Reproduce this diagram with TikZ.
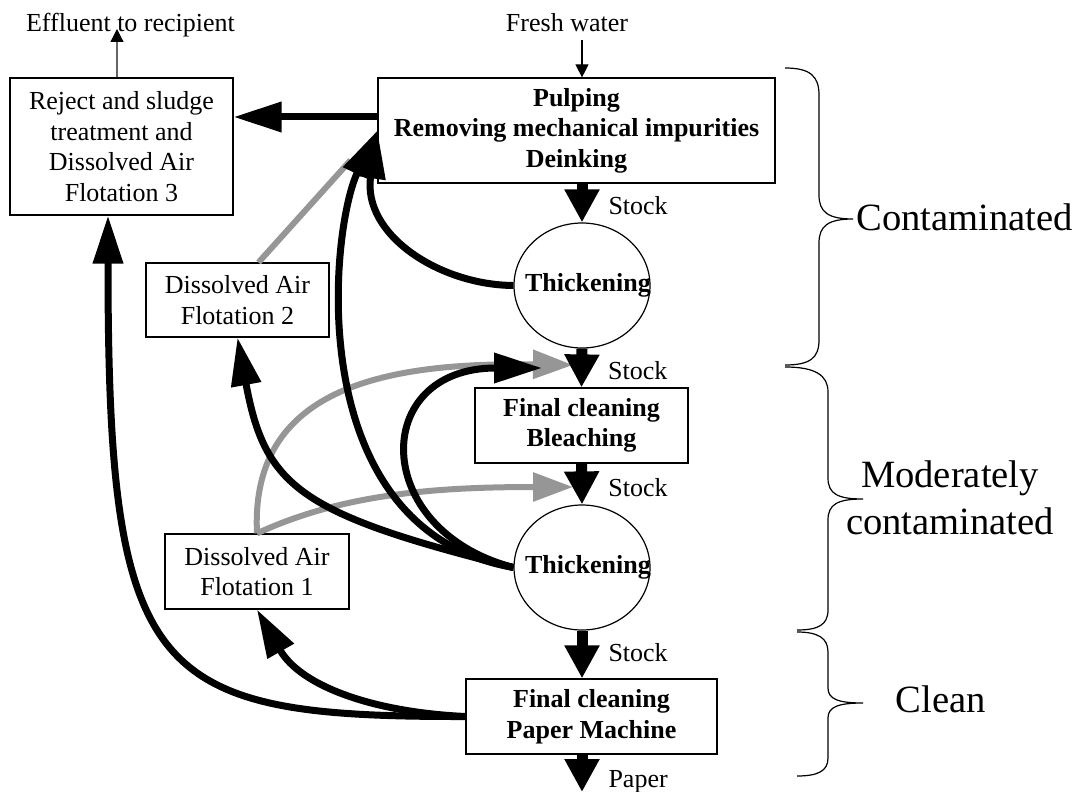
\documentclass[tikz,border=0pt]{standalone}
\usepackage{fontspec}
\setmainfont{Liberation Serif}
\usetikzlibrary{arrows.meta,shapes.geometric}
\definecolor{flowgray}{RGB}{150,150,150}
\tikzset{box/.style = {draw, line width=0.6pt, align=center, inner sep=0, font=\fontsize{13}{15.25}\selectfont}}
\tikzset{bbox/.style = {box, font=\fontsize{13}{15.25}\selectfont\bfseries}}
\tikzset{oval/.style = {draw, ellipse, line width=0.6pt, inner sep=0, minimum width=68pt, minimum height=62.5pt}}
\tikzset{ovaltext/.style = {inner sep=0, xshift=3pt, font=\fontsize{13}{15.25}\selectfont\bfseries}}
\tikzset{plain/.style = {inner sep=0, anchor=base, font=\fontsize{13}{15.25}\selectfont}}
\tikzset{lbl/.style = {plain, anchor=base west, xshift=10.5pt}}
\tikzset{zone/.style = {inner sep=0, align=center, font=\fontsize{19.3}{23.5}\selectfont}}
\tikzset{flow/.style = {line width=3.5pt, -{Triangle[length=24pt,width=14.5pt]}}}
\tikzset{grayflow/.style = {line width=3pt, draw=flowgray, -{Triangle[length=20pt,width=14pt]}}}
\tikzset{stockarr/.style = {line width=5.5pt, -{Triangle[length=16.5pt,width=16.5pt]}}}
\tikzset{thinarr/.style = {line width=0.6pt, -{Triangle[length=6.5pt,width=6.5pt,black]}}}
\tikzset{brace/.style = {line width=0.6pt}}

\begin{document}
\begin{tikzpicture}[x=0.5pt, y=-0.5pt]
      \useasboundingbox (0,0) rectangle (1082,792);
      % boxes and thickeners
      \node [box, minimum width=111.5pt, minimum height=68.5pt] (rej) at (121.5,146.5)
            {Reject and sludge\\treatment and\\Dissolved Air\\Flotation 3};
      \node [bbox, minimum width=198.5pt, minimum height=52.5pt] (pulp) at (576.5,130.5)
            {Pulping\\Removing mechanical impurities\\Deinking};
      \node [oval, label={[ovaltext]center:Thickening}] (th1) at (582,285.5) {};
      \node [bbox, minimum width=106.5pt, minimum height=37.5pt] (bleach) at (581.5,425.5)
            {Final cleaning\\Bleaching};
      \node [oval, label={[ovaltext]center:Thickening}] (th2) at (582,567.5) {};
      \node [bbox, minimum width=125.5pt, minimum height=37.5pt] (paper) at (591.5,716.5)
            {Final cleaning\\Paper Machine};
      \node [box, minimum width=91.5pt, minimum height=37pt] (daf2) at (237.5,300)
            {Dissolved Air\\Flotation 2};
      \node [box, minimum width=92pt, minimum height=37.5pt] (daf1) at (257,571.5)
            {Dissolved Air\\Flotation 1};
      \node [plain] (effl) at (130.5,32) {Effluent to recipient};
      \node [plain] (fresh) at (567,32) {Fresh water};
      \coordinate (efftip) at (117,29);
      \coordinate (freshtop) at (582,40);
      \coordinate (paperend) at (582,792);
      \coordinate (s2black) at (542,368);
      \coordinate (s2gray) at (573,365);
      \coordinate (s3gray) at (573,487);
      % thin arrows
      \draw [thinarr, draw=black!60] ([xshift=-2.25pt]rej.north) -- (efftip);
      \draw [thinarr] (freshtop) -- (pulp.north -| th1.north);
      % gray returns
      \draw [line width=3pt, draw=flowgray, shorten >=20pt] ([xshift=10.5pt]daf2.north) -- (pulp.west);
      \draw [grayflow] (daf1.north) .. controls (250,390) and (380,362) .. (s2gray);
      \draw [grayflow] (daf1.north) .. controls (340,495) and (430,487) .. (s3gray);
      % black returns
      \draw [flow] ([yshift=6.75pt]pulp.west) -- ([yshift=14.75pt]rej.east);
      \draw [flow] (paper.west) .. controls (150,717) and (108,680) .. ([xshift=-6.75pt]rej.south);
      \draw [flow] (paper.west) .. controls (370,712) and (300,685) .. (daf1.south);
      \draw [flow] (th2.west) .. controls (300,514) and (265,487) .. (daf2.south);
      \draw [flow] (th2.west) .. controls (300,530) and (330,230) .. (pulp.west);
      \draw [flow] (th1.west) .. controls (440,285) and (362,235) .. (pulp.west);
      \draw [flow] (th2.west) .. controls (370,530) and (370,368) .. (s2black);
      % stock line
      \draw [stockarr] (pulp.south -| th1.north) -- (th1.north) node [lbl, pos=.8] {Stock};
      \draw [stockarr] (th1.south) -- (bleach.north) node [lbl, pos=.8] {Stock};
      \draw [stockarr] (bleach.south) -- (th2.north) node [lbl, pos=.81] {Stock};
      \draw [stockarr] (th2.south) -- (th2.south |- paper.north) node [lbl, pos=.65] {Stock};
      \draw [stockarr] (paper.south -| th2.south) -- (paperend) node [lbl, pos=.87] {Paper};
      % braces
      \draw [brace] (785,68) .. controls (810,68) and (819,76) .. (819,95) -- (819,195)
            .. controls (819,212) and (828,219) .. (853,219) .. controls (828,219) and (819,226) .. (819,243)
            -- (819,340) .. controls (819,358) and (810,365) .. (785,365);
      \draw [brace] (785,367) .. controls (815,367) and (828,375) .. (828,392) -- (828,478)
            .. controls (828,494) and (838,499) .. (863,499) .. controls (838,499) and (828,504) .. (828,520)
            -- (828,610) .. controls (828,625) and (818,630) .. (797,630);
      \draw [brace] (797,632) .. controls (818,632) and (828,638) .. (828,652) -- (828,688)
            .. controls (828,699) and (838,703) .. (863,703) .. controls (838,703) and (828,707) .. (828,718)
            -- (828,758) .. controls (828,771) and (818,776) .. (797,776);
      \node [zone, anchor=base west] (cont) at (856,230) {Contaminated};
      \node [zone] (modc) at (950,498) {Moderately\\contaminated};
      \node [zone, anchor=base] (clean) at (941,712) {Clean};
\end{tikzpicture}
\end{document}
